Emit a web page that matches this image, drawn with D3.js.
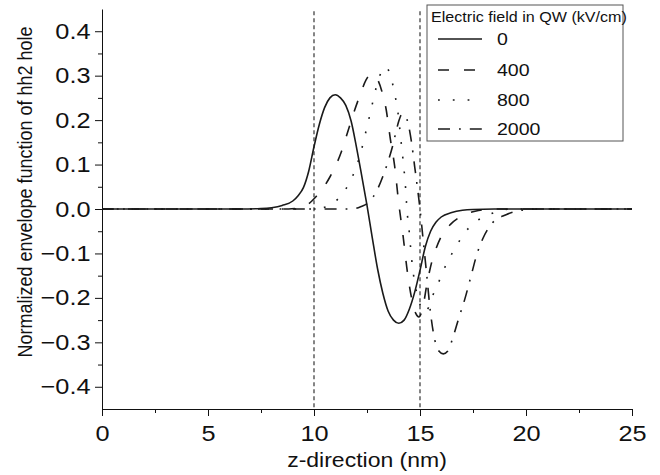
<!DOCTYPE html>
<meta charset="utf-8">
<body style="margin:0; background:#fff">
<svg width="660" height="475"></svg>
<script src="https://d3js.org/d3.v7.min.js"></script>
<style>
  text { font-family: "Liberation Sans", Arial, sans-serif; fill: #111; }
  .axis path, .axis line { stroke: #111; stroke-width: 1; }
</style>
<script>
// field in the QW (kV/cm), one envelope curve per value
var fieldLabels = ['0', '400', '800', '2000']
var dashes = ['none', '11,15', '1.8,13', '12,9,1.8,9']

// [z (nm), envelope]
var curve0 = [[0,0],[6.5,0],[7.5,0.001],[8,0.003],[8.5,0.008],[9,0.018],[9.25,0.03],[9.5,0.048],[9.75,0.085],
  [10,0.14],[10.25,0.19],[10.5,0.228],[10.75,0.25],[11,0.257],[11.25,0.25],[11.5,0.233],[11.75,0.198],[12,0.14],
  [12.25,0.075],[12.5,0.008],[12.75,-0.065],[13,-0.135],[13.25,-0.19],[13.5,-0.23],[13.75,-0.25],[14,-0.257],
  [14.25,-0.25],[14.5,-0.225],[14.75,-0.187],[15,-0.138],[15.25,-0.085],[15.5,-0.05],[15.75,-0.03],[16,-0.018],
  [16.5,-0.008],[17,-0.003],[17.5,-0.001],[18.5,0],[25,0]]
var curve400 = [[0,0],[8.8,0],[9.3,0.003],[9.7,0.01],[10.1,0.028],[10.4,0.045],[10.75,0.072],[11,0.095],[11.3,0.13],
  [11.6,0.175],[11.9,0.22],[12.2,0.26],[12.45,0.29],[12.7,0.303],[12.95,0.295],[13.2,0.265],[13.4,0.225],[13.6,0.158],
  [13.8,0.098],[14,0.012],[14.2,-0.06],[14.4,-0.14],[14.6,-0.2],[14.8,-0.235],[14.95,-0.243],[15.1,-0.228],
  [15.35,-0.163],[15.55,-0.12],[15.75,-0.09],[16,-0.062],[16.45,-0.034],[17,-0.015],[17.6,-0.005],[18.5,0],[25,0]]
var curve800 = [[0,0],[10,0],[10.5,0.004],[10.9,0.013],[11.2,0.026],[11.5,0.045],[11.85,0.077],[12.1,0.11],
  [12.33,0.15],[12.5,0.185],[12.67,0.219],[12.83,0.253],[13.03,0.29],[13.2,0.31],[13.4,0.32],[13.55,0.308],
  [13.7,0.283],[13.85,0.249],[13.98,0.21],[14.1,0.155],[14.2,0.11],[14.3,0.06],[14.4,-0.01],[14.5,-0.055],
  [14.6,-0.11],[14.7,-0.15],[14.8,-0.178],[15,-0.215],[15.2,-0.232],[15.4,-0.222],[15.6,-0.195],[15.95,-0.157],
  [16.26,-0.122],[16.65,-0.089],[17.1,-0.054],[17.8,-0.023],[18.5,-0.008],[19.3,0],[25,0]]
var curve2000 = [[0,0],[11.8,0],[12.2,0.005],[12.6,0.016],[13,0.045],[13.3,0.08],[13.5,0.108],[13.7,0.14],
  [13.85,0.17],[14,0.198],[14.15,0.213],[14.3,0.21],[14.45,0.19],[14.6,0.15],[14.75,0.095],[14.9,0.04],[15,0],
  [15.15,-0.07],[15.3,-0.14],[15.5,-0.235],[15.7,-0.295],[15.9,-0.32],[16.1,-0.326],[16.3,-0.32],[16.6,-0.282],
  [16.8,-0.25],[17.1,-0.205],[17.45,-0.143],[17.65,-0.107],[17.95,-0.068],[18.4,-0.032],[19.06,-0.013],
  [19.9,-0.002],[20.5,0],[25,0]]
var curves = [curve0, curve400, curve800, curve2000]

var xTicks = [0, 5, 10, 15, 20, 25]
var xMinor = [2.5, 7.5, 12.5, 17.5, 22.5]
var yTicks = [-0.4, -0.3, -0.2, -0.1, 0, 0.1, 0.2, 0.3, 0.4]
var yMinor = [-0.35, -0.25, -0.15, -0.05, 0.05, 0.15, 0.25, 0.35]
var wellEdges = [10, 15]

var svg = d3.select('svg')
var x = d3.scaleLinear().domain([0, 25]).range([102, 632])
var y = d3.scaleLinear().domain([-0.45, 0.45]).range([409, 9])

// the figure's lettering is a bit wider than normal
var stretch = 'scale(1.15,1)'

// minor ticks first, under the major axes
svg.append('g').attr('class', 'axis')
  .attr('transform', 'translate(0,409)')
  .call(d3.axisBottom(x).tickValues(xMinor).tickSize(4).tickFormat(''))
  .select('.domain').remove()
svg.append('g').attr('class', 'axis')
  .attr('transform', 'translate(102,0)')
  .call(d3.axisLeft(y).tickValues(yMinor).tickSize(4).tickFormat(''))
  .select('.domain').remove()

var xAxis = svg.append('g').attr('class', 'axis')
  .attr('transform', 'translate(0,409)')
  .call(d3.axisBottom(x).tickValues(xTicks).tickSize(7).tickSizeOuter(0).tickPadding(9))
xAxis.selectAll('text').attr('font-size', 22).attr('transform', stretch)

var yAxis = svg.append('g').attr('class', 'axis')
  .attr('transform', 'translate(102,0)')
  .call(d3.axisLeft(y).tickValues(yTicks).tickSize(7).tickSizeOuter(0).tickPadding(3).tickFormat(d3.format('.1f')))
yAxis.selectAll('text').attr('font-size', 22).attr('transform', stretch)
svg.selectAll('.axis text').style('font-family', '"Liberation Sans", Arial, sans-serif').attr('fill', '#111')

// well edges
svg.selectAll('.edge').data(wellEdges).enter().append('line')
  .attr('class', 'edge')
  .attr('x1', d => x(d)).attr('x2', d => x(d))
  .attr('y1', y(0.445)).attr('y2', y(-0.45))
  .attr('stroke', '#222').attr('stroke-width', 1.1).attr('stroke-dasharray', '4,3')

var line = d3.line()
  .x(d => x(d[0]))
  .y(d => y(d[1]))
  .curve(d3.curveMonotoneX)

svg.selectAll('.curve').data(curves).enter().append('path')
  .attr('class', 'curve')
  .attr('d', line)
  .attr('fill', 'none')
  .attr('stroke', '#1a1a1a')
  .attr('stroke-width', 1.6)
  .attr('stroke-dasharray', (d, i) => dashes[i])

// legend
var legend = svg.append('g').attr('transform', 'translate(427,5)')
legend.append('rect')
  .attr('width', 196).attr('height', 136)
  .attr('fill', '#fff').attr('stroke', '#555').attr('stroke-width', 1)
legend.append('text')
  .attr('transform', 'translate(4,16.5) ' + stretch)
  .attr('font-size', 14)
  .text('Electric field in QW (kV/cm)')

var rowY = [34, 65, 95, 124]
var rows = legend.selectAll('.row').data(fieldLabels).enter().append('g')
  .attr('transform', (d, i) => 'translate(0,' + rowY[i] + ')')
rows.append('line')
  .attr('x1', 11).attr('x2', 55)
  .attr('stroke', '#1a1a1a').attr('stroke-width', 1.6)
  .attr('stroke-dasharray', (d, i) => dashes[i])
rows.append('text')
  .attr('transform', 'translate(70,0) ' + stretch)
  .attr('dy', '0.36em')
  .attr('font-size', 17)
  .text(d => d)

// axis titles
svg.append('text')
  .attr('transform', 'translate(367,467) ' + stretch)
  .attr('text-anchor', 'middle')
  .attr('font-size', 20)
  .text('z-direction (nm)')
svg.append('text')
  .attr('transform', 'translate(32,192) ' + stretch + ' rotate(-90)')
  .attr('text-anchor', 'middle')
  .attr('font-size', 18)
  .text('Normalized envelope function of hh2 hole')
</script>
